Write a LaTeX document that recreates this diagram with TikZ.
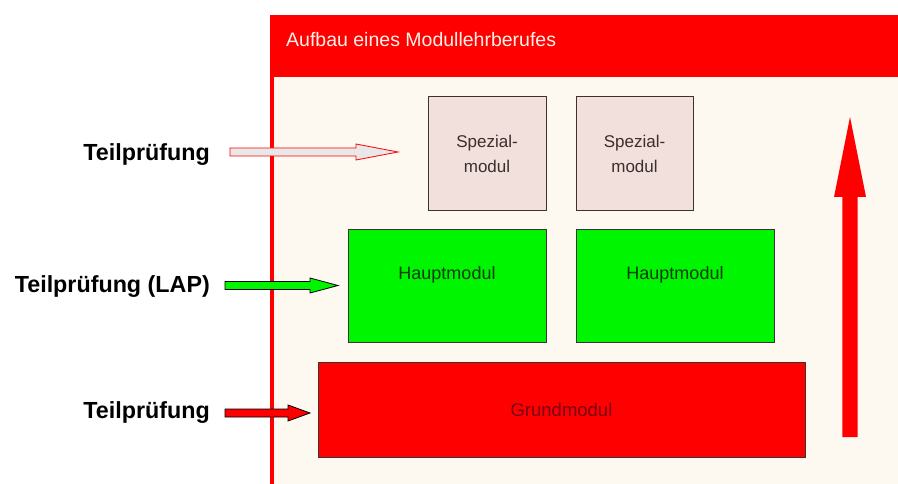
\documentclass[tikz,border=0pt]{standalone}
\usepackage{fontspec}
\setmainfont{Liberation Sans}
\usetikzlibrary{calc}
\definecolor{cream}{RGB}{253,248,240}
\definecolor{spezfill}{RGB}{242,224,220}
\definecolor{hgreen}{RGB}{0,245,0}
\definecolor{hred}{RGB}{255,0,0}
\definecolor{boxline}{RGB}{60,50,50}
\definecolor{titlecol}{RGB}{253,240,232}
\definecolor{spezText}{RGB}{58,46,46}
\definecolor{hauptText}{RGB}{10,60,10}
\definecolor{grundText}{RGB}{120,0,20}
\definecolor{lightarrow}{RGB}{232,232,232}
\newcommand\blockarrow[6]{%
  \draw[#1] ($(#2)+(0,-#4)$) -- ($(#3)+(-#5,-#4)$) -- ($(#3)+(-#5,-#6)$) -- (#3)
    -- ($(#3)+(-#5,#6)$) -- ($(#3)+(-#5,#4)$) -- ($(#2)+(0,#4)$) -- cycle;}
\tikzset{
  modbox/.style={draw=boxline, line width=1pt, inner sep=0pt, align=center},
  spezbox/.style={modbox, fill=spezfill, text=spezText, font=\fontsize{17}{25}\selectfont},
  hauptbox/.style={modbox, fill=hgreen},
  grundbox/.style={modbox, fill=hred, text=grundText, font=\fontsize{18.5}{22}\selectfont},
  hauptlabel/.style={text=hauptText, font=\fontsize{18}{22}\selectfont, inner sep=0pt},
  sidelabel/.style={anchor=east, inner sep=0pt, font=\fontsize{23.3}{28}\bfseries\selectfont},
  arrowlight/.style={fill=lightarrow, draw=hred, line width=0.8pt},
  arrowgreen/.style={fill=hgreen, draw=black, line width=0.8pt},
  arrowred/.style={fill=hred, draw=black, line width=0.8pt},
}
\begin{document}
\begin{tikzpicture}[x=1pt, y=-1pt]
\useasboundingbox (0,0) rectangle (898,484);
\fill[white] (0,0) rectangle (898,484);
% panel
\fill[hred] (269.5,15) rectangle (898,484);
\fill[cream] (274,77) rectangle (898,484);
\node[anchor=base west, inner sep=0pt, text=titlecol, font=\fontsize{19.5}{22}\selectfont] (title) at (286,47) {Aufbau eines Modullehrberufes};
% modules
\node[spezbox, minimum width=118pt, minimum height=114pt] (s1) at (487,154) {Spezial-\\modul};
\node[spezbox, minimum width=117pt, minimum height=114pt] (s2) at (634.5,154) {Spezial-\\modul};
\node[hauptbox, minimum width=198pt, minimum height=112pt] (h1) at (447,286) {};
\node[hauptbox, minimum width=198pt, minimum height=112pt] (h2) at (675,286) {};
\node[hauptlabel] (h1t) at ($(h1.center)+(0,-11)$) {Hauptmodul};
\node[hauptlabel] (h2t) at ($(h2.center)+(0,-11)$) {Hauptmodul};
\node[grundbox, minimum width=487pt, minimum height=95pt] (g) at (561.5,409.5) {Grundmodul};
% side labels
\node[sidelabel] (l1) at (210,155) {Teilprüfung};
\node[sidelabel] (l2) at (210,287) {Teilprüfung (LAP)};
\node[sidelabel] (l3) at (210,413) {Teilprüfung};
% arrow coordinates
\coordinate (a1s) at (230,152);
\coordinate (a1e) at (398,152);
\coordinate (a2s) at (225,285.5);
\coordinate (a2e) at (338,285.5);
\coordinate (a3s) at (225,413);
\coordinate (a3e) at (310,413);
\blockarrow{arrowlight}{a1s}{a1e}{4}{42}{8}
\blockarrow{arrowgreen}{a2s}{a2e}{4}{28}{7.5}
\blockarrow{arrowred}{a3s}{a3e}{4}{22}{8}
% big upward arrow
\coordinate (upb) at (850,437);
\coordinate (upt) at (850,117);
\fill[hred] ($(upb)+(-7.7,0)$) -- ($(upt)+(-7.7,80)$) -- ($(upt)+(-16,80)$) -- (upt)
  -- ($(upt)+(16,80)$) -- ($(upt)+(7.7,80)$) -- ($(upb)+(7.7,0)$) -- cycle;
\end{tikzpicture}
\end{document}
